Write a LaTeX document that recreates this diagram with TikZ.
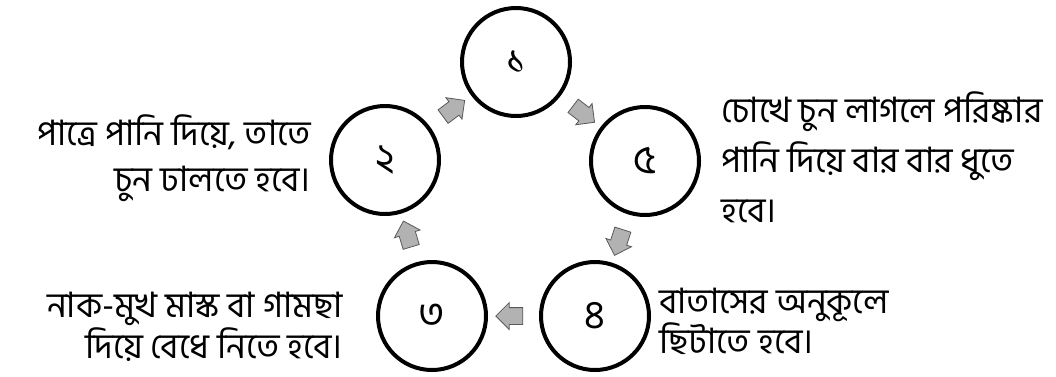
\documentclass[tikz,border=0pt]{standalone}
\usepackage{fontspec}
\newfontfamily\bnfont[Script=Bengali]{Hind Siliguri}
\usetikzlibrary{shapes.arrows, positioning}
\newcommand{\notefont}[1]{\bnfont\fontsize{35}{#1}\selectfont\lineskiplimit=-100pt\lineskip=0pt}
\tikzset{
    font=\bnfont,
    % Circles
    stage/.style={circle, draw=black, line width=4pt, minimum size=108pt,
                  inner sep=0pt, font=\bnfont\fontsize{40}{40}\selectfont},
    % Arrows between circles
    turn/.style={single arrow, draw=gray!70!black, fill=gray!60, line width=0.8pt,
                 minimum height=27pt, inner sep=8pt,
                 single arrow head extend=5pt, sloped, allow upside down},
    % Labels
    note/.style={inner sep=0pt}
}

\begin{document}
\begin{tikzpicture}[x=1pt, y=-1pt]

\fill[white] (0,0) rectangle (1056,376);
\useasboundingbox (0,0) rectangle (1056,376);

\node[stage] (s1) at (516,62) {১};
\node[stage] (s5) at (645,161) {৫};
\node[stage] (s4) at (595,316) {৪};
\node[stage] (s3) at (432,316) {৩};
\node[stage] (s2) at (385,160) {২};

\path (s1) -- node[turn] {} (s5);
\path (s5) -- node[turn] {} (s4);
\path (s4) -- node[turn] {} (s3);
\path (s3) -- node[turn] {} (s2);
\path (s2) -- node[turn] {} (s1);

\node[note, anchor=east, align=right, font=\notefont{46}]
    (t2) at (311,158) {পাত্রে পানি দিয়ে, তাতে\\চুন ঢালতে হবে।};
\node[note, anchor=west, align=left, font=\notefont{50}]
    (t5) at (721,157) {চোখে চুন লাগলে পরিষ্কার\\পানি দিয়ে বার বার ধুতে\\হবে।};
\node[note, anchor=east, align=right, font=\notefont{41}]
    (t3) at (343,327) {নাক-মুখ মাস্ক বা গামছা\\দিয়ে বেধে নিতে হবে।};
\node[note, anchor=west, align=left, font=\notefont{40}]
    (t4) at (659,321) {বাতাসের অনুকূলে\\ছিটাতে হবে।};

\end{tikzpicture}
\end{document}
